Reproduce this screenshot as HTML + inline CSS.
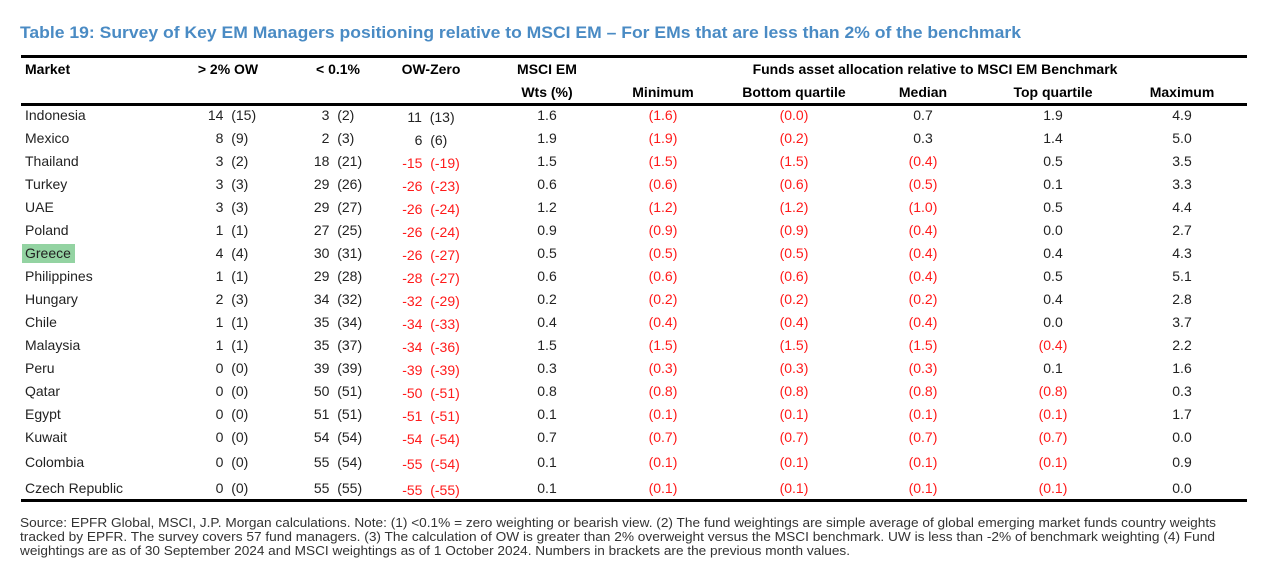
<!DOCTYPE html>
<html><head><meta charset="utf-8"><style>
html,body{margin:0;padding:0;background:#fff;}
svg{display:block;font-family:"Liberation Sans",Arial,sans-serif;}
.h{font-weight:bold;font-size:14px;fill:#000;text-anchor:middle;}
.c{font-size:14px;fill:#222;text-anchor:middle;white-space:pre;}
.r{fill:#ff1a1a;}
.m{font-size:14px;fill:#222;}
.f{font-size:12.5px;fill:#333;}
</style></head><body>
<svg width="1270" height="573" viewBox="0 0 1270 573" xmlns="http://www.w3.org/2000/svg" xml:space="preserve">
<text x="20" y="38" font-size="17" font-weight="bold" fill="#4a8bc4" textLength="1001" lengthAdjust="spacingAndGlyphs">Table 19: Survey of Key EM Managers positioning relative to MSCI EM – For EMs that are less than 2% of the benchmark</text>
<rect x="21" y="55" width="1226" height="3" fill="#000"/>
<rect x="21" y="103" width="1226" height="3" fill="#000"/>
<rect x="21" y="499" width="1226" height="3" fill="#000"/>
<text x="25" y="74" class="h" text-anchor="start" style="text-anchor:start">Market</text>
<text x="228" y="74" class="h">&gt; 2% OW</text>
<text x="338" y="74" class="h">&lt; 0.1%</text>
<text x="431" y="74" class="h">OW-Zero</text>
<text x="547" y="74" class="h">MSCI EM</text>
<text x="547" y="97" class="h">Wts (%)</text>
<text x="935" y="74" class="h">Funds asset allocation relative to MSCI EM Benchmark</text>
<text x="663" y="97" class="h">Minimum</text>
<text x="794" y="97" class="h">Bottom quartile</text>
<text x="923" y="97" class="h">Median</text>
<text x="1053" y="97" class="h">Top quartile</text>
<text x="1182" y="97" class="h">Maximum</text>
<rect x="22" y="244" width="53" height="19" fill="#93d3a2"/>
<g id="rows"></g>
<text x="20" y="527" class="f" textLength="1196" lengthAdjust="spacingAndGlyphs">Source: EPFR Global, MSCI, J.P. Morgan calculations. Note: (1) &lt;0.1% = zero weighting or bearish view. (2) The fund weightings are simple average of global emerging market funds country weights</text>
<text x="20" y="541" class="f" textLength="1195" lengthAdjust="spacingAndGlyphs">tracked by EPFR.  The survey covers 57 fund managers. (3) The calculation of OW is greater than 2% overweight versus the MSCI benchmark. UW is less than -2% of benchmark weighting (4) Fund</text>
<text x="20" y="555" class="f" textLength="830" lengthAdjust="spacingAndGlyphs">weightings are as of 30 September 2024 and MSCI weightings as of 1 October 2024. Numbers in brackets are the previous month values.</text>
<script>
var d=[
["Indonesia","14  (15)","3  (2)","11  (13)","1.6","(1.6)","(0.0)","0.7","1.9","4.9",115],
["Mexico","8  (9)","2  (3)","6  (6)","1.9","(1.9)","(0.2)","0.3","1.4","5.0",138],
["Thailand","3  (2)","18  (21)","-15  (-19)","1.5","(1.5)","(1.5)","(0.4)","0.5","3.5",161],
["Turkey","3  (3)","29  (26)","-26  (-23)","0.6","(0.6)","(0.6)","(0.5)","0.1","3.3",184],
["UAE","3  (3)","29  (27)","-26  (-24)","1.2","(1.2)","(1.2)","(1.0)","0.5","4.4",207],
["Poland","1  (1)","27  (25)","-26  (-24)","0.9","(0.9)","(0.9)","(0.4)","0.0","2.7",230],
["Greece","4  (4)","30  (31)","-26  (-27)","0.5","(0.5)","(0.5)","(0.4)","0.4","4.3",253],
["Philippines","1  (1)","29  (28)","-28  (-27)","0.6","(0.6)","(0.6)","(0.4)","0.5","5.1",276],
["Hungary","2  (3)","34  (32)","-32  (-29)","0.2","(0.2)","(0.2)","(0.2)","0.4","2.8",299],
["Chile","1  (1)","35  (34)","-34  (-33)","0.4","(0.4)","(0.4)","(0.4)","0.0","3.7",322],
["Malaysia","1  (1)","35  (37)","-34  (-36)","1.5","(1.5)","(1.5)","(1.5)","(0.4)","2.2",345],
["Peru","0  (0)","39  (39)","-39  (-39)","0.3","(0.3)","(0.3)","(0.3)","0.1","1.6",368],
["Qatar","0  (0)","50  (51)","-50  (-51)","0.8","(0.8)","(0.8)","(0.8)","(0.8)","0.3",391],
["Egypt","0  (0)","51  (51)","-51  (-51)","0.1","(0.1)","(0.1)","(0.1)","(0.1)","1.7",414],
["Kuwait","0  (0)","54  (54)","-54  (-54)","0.7","(0.7)","(0.7)","(0.7)","(0.7)","0.0",437],
["Colombia","0  (0)","55  (54)","-55  (-54)","0.1","(0.1)","(0.1)","(0.1)","(0.1)","0.9",462],
["Czech Republic","0  (0)","55  (55)","-55  (-55)","0.1","(0.1)","(0.1)","(0.1)","(0.1)","0.0",488]];
var xs=[232,338,431,547,663,794,923,1053,1182];
var ns="http://www.w3.org/2000/svg",g=document.getElementById("rows");
d.forEach(function(r){
 var y=r[10]+5;
 var t=document.createElementNS(ns,"text");
 t.setAttribute("x",25);t.setAttribute("y",y);t.setAttribute("class","m");
 if(r[0]=="Greece")t.setAttribute("fill","#2e6b3a");
 t.textContent=r[0];g.appendChild(t);
 for(var i=1;i<10;i++){
  var s=r[i];var e=document.createElementNS(ns,"text");
  e.setAttribute("x",xs[i-1]);e.setAttribute("y",i==3?y+2:y);
  var red=s.charAt(0)=="("||s.charAt(0)=="-";
  e.setAttribute("class","c"+(red?" r":""));
  e.textContent=s;g.appendChild(e);
 }
});
</script>
</svg>
</body></html>
